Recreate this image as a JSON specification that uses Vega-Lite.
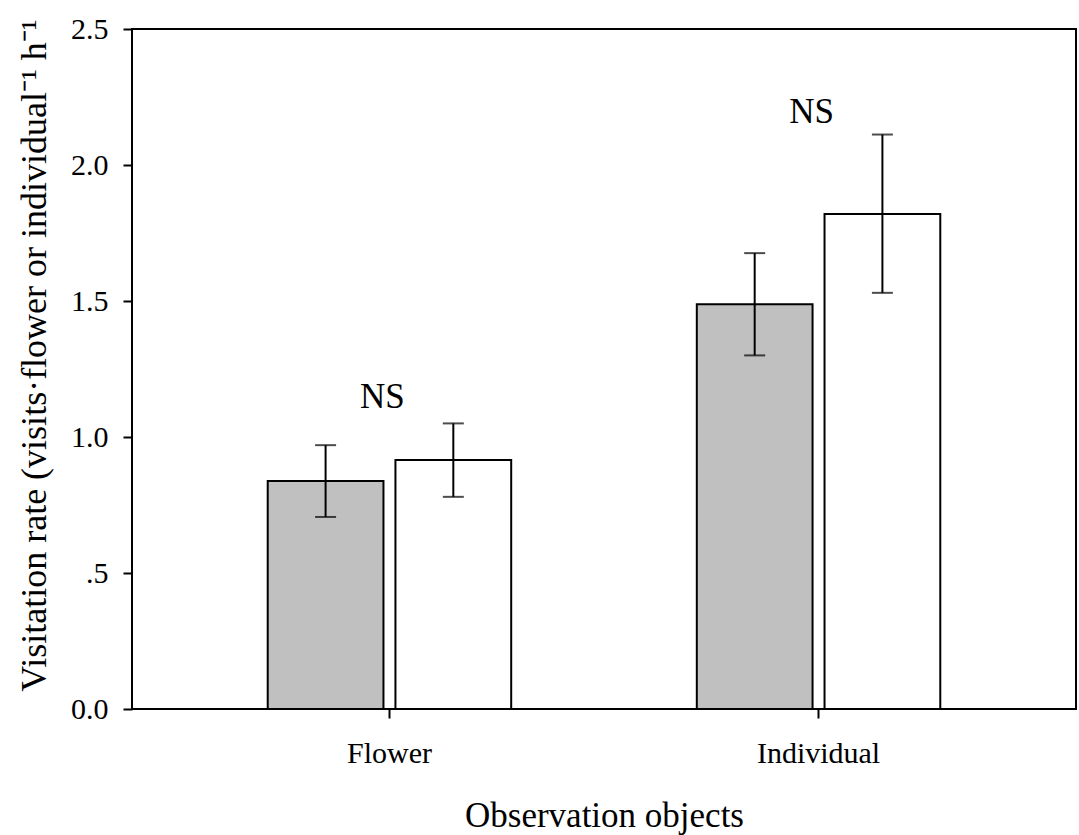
{
  "$schema": "https://vega.github.io/schema/vega-lite/v6.json",
  "width": 944,
  "height": 680,
  "autosize": "none",
  "padding": {"left": 132, "top": 29, "right": 3, "bottom": 126},
  "background": "white",
  "config": {
    "font": "Liberation Serif",
    "view": {"stroke": "black", "strokeWidth": 2},
    "axis": {
      "domain": false,
      "grid": false,
      "tickColor": "black",
      "tickWidth": 2,
      "tickSize": 9,
      "labelColor": "black",
      "titleColor": "black",
      "labelFont": "Liberation Serif",
      "titleFont": "Liberation Serif",
      "titleFontWeight": "normal"
    }
  },
  "data": {
    "values": [
      {"object": "Flower", "group": "A", "mean": 0.838, "lo": 0.706, "hi": 0.970},
      {"object": "Flower", "group": "B", "mean": 0.915, "lo": 0.780, "hi": 1.050},
      {"object": "Individual", "group": "A", "mean": 1.488, "lo": 1.300, "hi": 1.676},
      {"object": "Individual", "group": "B", "mean": 1.820, "lo": 1.530, "hi": 2.112}
    ]
  },
  "encoding": {
    "x": {
      "field": "object",
      "type": "nominal",
      "sort": ["Flower", "Individual"],
      "scale": {"paddingInner": 0, "paddingOuter": 0.1},
      "axis": {
        "title": "Observation objects",
        "labelAngle": 0,
        "labelFontSize": 30,
        "labelPadding": 20,
        "titleFontSize": 35,
        "titlePadding": 30
      }
    }
  },
  "layer": [
    {
      "mark": {"type": "bar", "stroke": "black", "strokeWidth": 2},
      "encoding": {
        "xOffset": {"field": "group", "type": "nominal", "scale": {"paddingInner": 0.09375, "paddingOuter": 0.7266}},
        "y": {
          "field": "mean",
          "type": "quantitative",
          "scale": {"domain": [0, 2.5], "nice": false, "zero": true},
          "title": "Visitation rate (visits·flower or individual⁻¹ h⁻¹",
          "axis": {
            "values": [0, 0.5, 1, 1.5, 2, 2.5],
            "labelExpr": "datum.value == 0.5 ? '.5' : format(datum.value, '.1f')",
            "labelFontSize": 30,
            "labelPadding": 15,
            "titleFontSize": 36,
            "titlePadding": 17,
            "titleY": 326
          }
        },
        "fill": {"field": "group", "type": "nominal", "scale": {"domain": ["A", "B"], "range": ["#c0c0c0", "#ffffff"]}, "legend": null}
      }
    },
    {
      "mark": {"type": "rule", "color": "black", "strokeWidth": 2},
      "encoding": {
        "xOffset": {"field": "group", "type": "nominal"},
        "y": {"field": "lo", "type": "quantitative", "title": "Visitation rate (visits·flower or individual⁻¹ h⁻¹"},
        "y2": {"field": "hi"}
      }
    },
    {
      "mark": {"type": "tick", "color": "black", "thickness": 2, "size": 21, "orient": "horizontal"},
      "encoding": {
        "xOffset": {"field": "group", "type": "nominal"},
        "y": {"field": "lo", "type": "quantitative", "title": "Visitation rate (visits·flower or individual⁻¹ h⁻¹"}
      }
    },
    {
      "mark": {"type": "tick", "color": "black", "thickness": 2, "size": 21, "orient": "horizontal"},
      "encoding": {
        "xOffset": {"field": "group", "type": "nominal"},
        "y": {"field": "hi", "type": "quantitative", "title": "Visitation rate (visits·flower or individual⁻¹ h⁻¹"}
      }
    },
    {
      "data": {
        "values": [
          {"object": "Flower", "pos": 1.147, "label": "NS"},
          {"object": "Individual", "pos": 2.196, "label": "NS"}
        ]
      },
      "mark": {"type": "text", "fontSize": 35, "font": "Liberation Serif", "color": "black", "baseline": "middle", "align": "center", "dx": -7},
      "encoding": {
        "y": {"field": "pos", "type": "quantitative", "title": "Visitation rate (visits·flower or individual⁻¹ h⁻¹"},
        "text": {"field": "label"}
      }
    }
  ]
}
